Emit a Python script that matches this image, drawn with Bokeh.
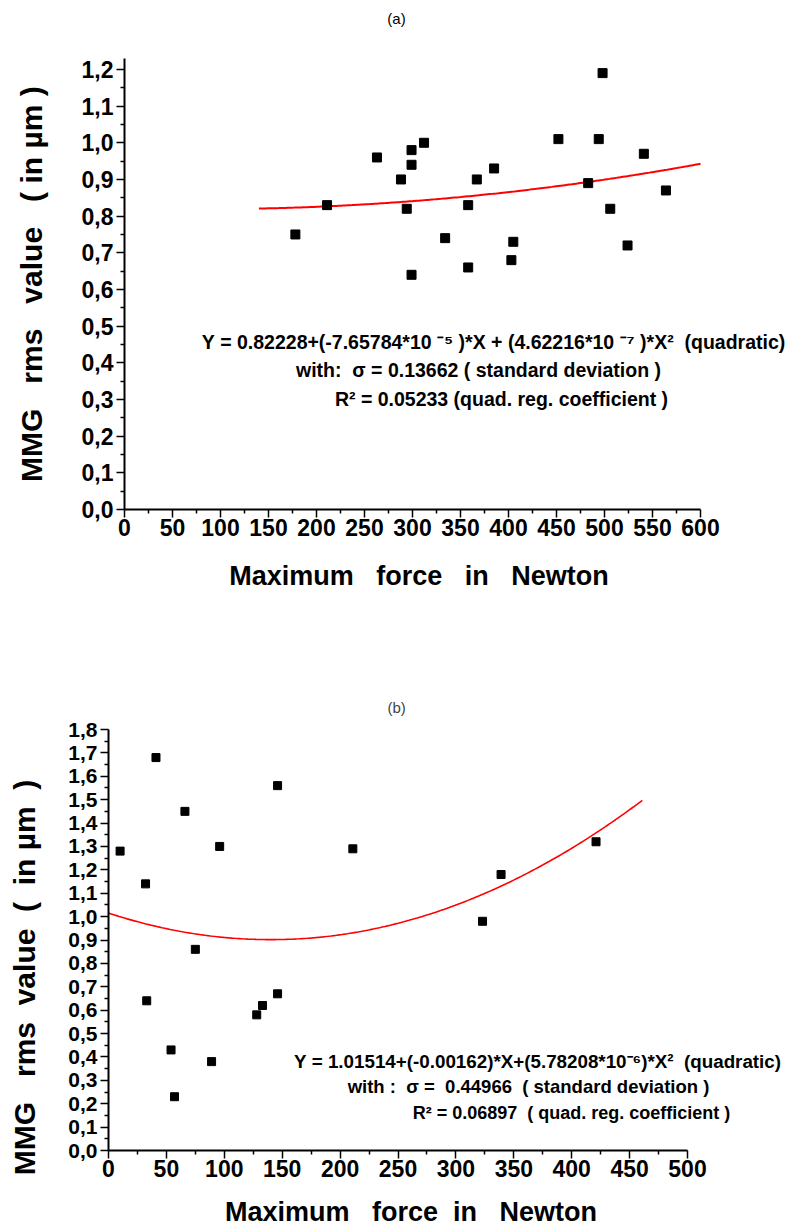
import numpy as np
from bokeh.plotting import figure
from bokeh.layouts import column
from bokeh.models import FixedTicker, CustomJSTickFormatter, Label, Title
from bokeh.embed import file_html
from bokeh.resources import INLINE

# ---------------- data: panel (a) ----------------
force_a = [178, 211, 263, 288, 294, 299, 299, 299, 312, 334, 358, 358,
           367, 385, 403, 405, 452, 483, 494, 498, 506, 524, 541, 564]
mmg_a = [0.75, 0.83, 0.96, 0.90, 0.82, 0.98, 0.94, 0.64, 1.00, 0.74, 0.83, 0.66,
         0.90, 0.93, 0.68, 0.73, 1.01, 0.89, 1.01, 1.19, 0.82, 0.72, 0.97, 0.87]
coef_a = [0.82228, -7.65784e-5, 4.62216e-7]   # printed fit equation
fit_span_a = [140, 600]
x_ticks_a = [0, 50, 100, 150, 200, 250, 300, 350, 400, 450, 500, 550, 600]
y_ticks_a = [0.0, 0.1, 0.2, 0.3, 0.4, 0.5, 0.6, 0.7, 0.8, 0.9, 1.0, 1.1, 1.2]

# ---------------- data: panel (b) ----------------
force_b = [10, 32, 41, 66, 96, 75, 33, 128, 133, 146, 146, 211,
           323, 339, 421, 54, 89, 57]
mmg_b = [1.28, 1.14, 1.68, 1.45, 1.30, 0.86, 0.64, 0.58, 0.62, 0.67, 1.56, 1.29,
         0.98, 1.18, 1.32, 0.43, 0.38, 0.23]
coef_b = [1.01514, -0.00162, 5.78208e-6]      # printed fit equation
fit_span_b = [0, 461]
x_ticks_b = [0, 50, 100, 150, 200, 250, 300, 350, 400, 450, 500]
y_ticks_b = [0.0, 0.1, 0.2, 0.3, 0.4, 0.5, 0.6, 0.7, 0.8, 0.9, 1.0, 1.1, 1.2,
             1.3, 1.4, 1.5, 1.6, 1.7, 1.8]

FONT = "Liberation Sans"
NB = "\u00a0"
comma_fmt = CustomJSTickFormatter(code="return tick.toFixed(1).replace('.', ',');")


def sp(s, lead=0, trail=0):
    return NB * lead + s.replace(" ", NB) + NB * trail


def style_axes(p, xt, yt, tick_size, xlab, ylab, ylab_standoff, xlab_standoff, ybounds):
    xminor = [(a + b) / 2 for a, b in zip(xt[:-1], xt[1:])]
    yminor = [(a + b) / 2 for a, b in zip(yt[:-1], yt[1:])]
    p.xaxis.ticker = FixedTicker(ticks=xt, minor_ticks=xminor)
    p.yaxis.ticker = FixedTicker(ticks=yt, minor_ticks=yminor)
    p.xaxis.bounds = (xt[0], xt[-1])
    p.yaxis.bounds = ybounds
    p.yaxis.formatter = comma_fmt
    for ax in (p.xaxis, p.yaxis):
        ax.axis_line_width = 2
        ax.axis_line_color = "black"
        ax.major_tick_line_width = 1.5
        ax.minor_tick_line_width = 1.5
        ax.major_tick_line_color = "black"
        ax.minor_tick_line_color = "black"
        ax.major_tick_in = 0
        ax.major_tick_out = 8
        ax.minor_tick_in = 0
        ax.minor_tick_out = 4
        ax.major_label_text_font = FONT
        ax.major_label_text_font_style = "bold"
        ax.major_label_text_color = "black"
        ax.axis_label_text_font = FONT
        ax.axis_label_text_font_style = "bold"
        ax.axis_label_text_color = "black"
    p.xaxis.axis_label_text_font_size = "27px"
    p.yaxis.axis_label_text_font_size = "30px"
    p.xaxis.major_label_text_font_size = tick_size[0]
    p.yaxis.major_label_text_font_size = tick_size[1]
    p.xaxis.major_label_standoff = 1
    p.yaxis.major_label_standoff = 3
    p.xaxis.axis_label = xlab
    p.yaxis.axis_label = ylab
    p.xaxis.axis_label_standoff = xlab_standoff
    p.yaxis.axis_label_standoff = ylab_standoff
    p.grid.visible = False
    p.outline_line_color = None


def add_text(p, sx, sy, txt, size="19.5px", bold=True):
    p.add_layout(Label(x=sx, y=sy, x_units="screen", y_units="screen", text=sp(txt),
                       text_font=FONT, text_font_style="bold" if bold else "normal",
                       text_font_size=size, text_color="black",
                       text_align="center", text_baseline="middle"))


# ---------------- panel (a) ----------------
# frame: x 124..788 (0.96 px per newton), y 0..509 (366.7 px per unit)
pa = figure(width=788, height=620, output_backend="svg", toolbar_location=None,
            x_range=(0, 691.67), y_range=(0, 1.388),
            min_border_left=124, min_border_right=0, min_border_top=0, min_border_bottom=111)

xa = np.linspace(fit_span_a[0], fit_span_a[1], 200)
ya = coef_a[0] + coef_a[1] * xa + coef_a[2] * xa ** 2
pa.line(xa, ya, line_color="red", line_width=2)
pa.scatter(force_a, mmg_a, marker="square", size=9, color="black")
style_axes(pa, x_ticks_a, y_ticks_a, ("23px", "23px"),
           sp("Maximum   force   in   Newton", trail=10),
           sp("MMG   rms   value   ( in \u00b5m )", trail=7), 31, 22, (0, 1.23))

add_text(pa, 272, 491, "(a)", size="15px", bold=False)
add_text(pa, 369, 168, "Y = 0.82228+(-7.65784*10 \u207b\u2075 )*X + (4.62216*10 \u207b\u2077 )*X\u00b2  (quadratic)")
add_text(pa, 354, 140, "with:  \u03c3 = 0.13662 ( standard deviation )")
add_text(pa, 377, 111, "R\u00b2 = 0.05233 (quad. reg. coefficient )")

# ---------------- panel (b) ----------------
# frame: x 108..788 (1.158 px per newton), y 729..1150 (233.9 px per unit)
pb = figure(width=788, height=609, output_backend="svg", toolbar_location=None,
            x_range=(0, 587.2), y_range=(0, 1.8),
            min_border_left=108, min_border_right=0, min_border_top=109, min_border_bottom=79)
pb.add_layout(Title(text="(b)", align="left", offset=279, standoff=28,
                    text_font=FONT, text_font_style="normal", text_font_size="15px"), "above")

xb = np.linspace(fit_span_b[0], fit_span_b[1], 200)
yb = coef_b[0] + coef_b[1] * xb + coef_b[2] * xb ** 2
pb.line(xb, yb, line_color="red", line_width=1.6)
pb.scatter(force_b, mmg_b, marker="square", size=8, color="black")
style_axes(pb, x_ticks_b, y_ticks_b, ("23px", "21px"),
           sp("Maximum   force  in   Newton", trail=10),
           sp("MMG   rms  value  (  in \u00b5m  )", trail=9), 24, 17, (0, 1.8))

add_text(pb, 429, 89, "Y = 1.01514+(-0.00162)*X+(5.78208*10\u207b\u2076)*X\u00b2  (quadratic)", size="18.8px")
add_text(pb, 420, 64, "with :  \u03c3 =  0.44966  ( standard deviation )", size="18.5px")
add_text(pb, 463, 38, "R\u00b2 = 0.06897  ( quad. reg. coefficient )", size="18px")

layout = column(column(pa), column(pb), spacing=0)
open("out.html", "w").write(file_html(layout, INLINE))
